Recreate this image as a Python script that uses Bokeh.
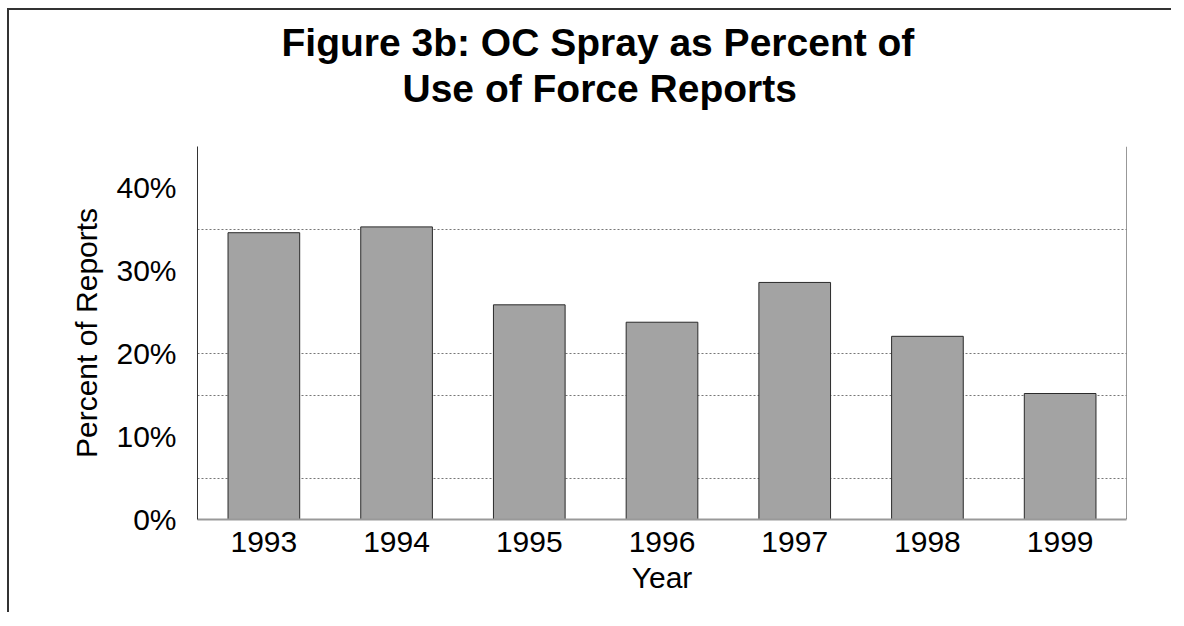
from bokeh.plotting import figure
from bokeh.models import (ColumnDataSource, FixedTicker, PrintfTickFormatter,
                          Title, Span)
from bokeh.embed import file_html
from bokeh.resources import INLINE

# ---- data ----
years = ["1993", "1994", "1995", "1996", "1997", "1998", "1999"]
oc_pct = [34.6, 35.3, 25.9, 23.8, 28.6, 22.1, 15.2]
y_ticks = [0, 10, 20, 30, 40]
grid_pcts = [5, 15, 20, 35, 45]
title_lines = ["Figure 3b: OC Spray as Percent of", "Use of Force Reports"]

FONT = "Liberation Sans"

src = ColumnDataSource(dict(year=years, pct=oc_pct))

p = figure(x_range=years, y_range=(0, 45), width=1164, height=604,
           output_backend="svg", toolbar_location=None, tools="",
           min_border_left=188, min_border_right=47,
           min_border_top=136, min_border_bottom=95)
p.x_range.range_padding = 0
p.styles = {"margin-left": "7px", "margin-top": "8px",
            "border-top": "2px solid #333", "border-left": "2px solid #333"}

p.vbar(x="year", top="pct", width=0.54, source=src,
       fill_color="#a3a3a3", line_color="#2a2a2a", line_width=1)

# axes
p.yaxis.ticker = FixedTicker(ticks=y_ticks)
p.yaxis.formatter = PrintfTickFormatter(format="%d%%")
p.yaxis.axis_label = "Percent of Reports"
p.xaxis.axis_label = "Year"
for ax in (p.xaxis[0], p.yaxis[0]):
    ax.major_label_text_font = FONT
    ax.major_label_text_font_size = "30px"
    ax.major_label_text_color = "black"
    ax.axis_label_text_font = FONT
    ax.axis_label_text_font_size = "30px"
    ax.axis_label_text_font_style = "normal"
    ax.axis_label_text_color = "black"
    ax.major_tick_line_color = None
    ax.minor_tick_line_color = None
p.yaxis.major_label_standoff = 15
p.yaxis.axis_label_standoff = 10
p.yaxis.axis_line_color = "#333333"
p.xaxis.major_label_standoff = 6
p.xaxis.axis_label_standoff = 6
p.xaxis.axis_line_color = "#999999"
p.xaxis.axis_line_width = 2

# grid
p.xgrid.grid_line_color = None
p.ygrid.ticker = FixedTicker(ticks=grid_pcts)
p.ygrid.grid_line_color = "#777777"
p.ygrid.grid_line_dash = "2 2"
p.ygrid.grid_line_width = 1
p.outline_line_color = None
p.add_layout(Span(location=len(years), dimension="height",
                  line_color="#333333", line_width=1))

# title: two lines, placed left-aligned with offsets so they centre on the chart area
t2 = Title(text=title_lines[1], align="left", offset=205, standoff=74,
           text_font=FONT, text_font_size="39px", text_font_style="bold",
           text_color="black")
t1 = Title(text=title_lines[0], align="left", offset=84, standoff=-72,
           text_font=FONT, text_font_size="39px", text_font_style="bold",
           text_color="black")
p.add_layout(t2, "above")
p.add_layout(t1, "above")

open("out.html", "w").write(file_html(p, INLINE))
